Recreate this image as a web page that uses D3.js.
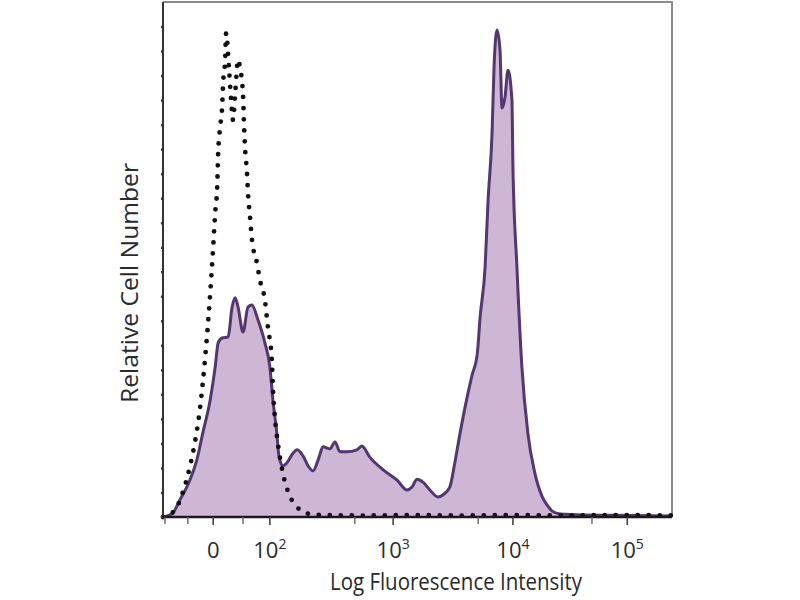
<!DOCTYPE html>
<html>
<head>
<meta charset="utf-8">
<script src="https://cdn.jsdelivr.net/npm/d3@7"></script>
<style>
  html, body { margin: 0; padding: 0; background: #fff; }
  svg { display: block; }
  text { font-family: "Open Sans", "DejaVu Sans", sans-serif; fill: #2a2a2a; }
</style>
</head>
<body>
<svg id="chart" width="800" height="600"></svg>
<script>
// Histogram over 1024 display channels (log/biexponential display)
const solidCh = [0,18,34,54,68,80,95,105,111,119,131,139,145,151,161,171,179,191,205,215,221,229,233,241,249,260,270,282,292,302,312,322,336,346,356,370,390,400,416,443,471,491,501,511,523,537,553,563,577,587,598,612,622,632,638,648,654,662,666,672,678,682,688,694,702,704,712,722,734,748,763,773,783,799,850,950,1024];
const solidVal = [0,0.6,3.5,7.5,11.6,17.1,23.9,30.6,35.5,36.5,36.7,42.8,44.7,42.8,37.7,42.8,43.2,40.2,35.5,30.6,23.9,17.1,12.6,10.4,11.0,12.8,13.7,12.4,10.4,9.4,11.6,14.3,13.9,15.3,13.3,13.3,13.7,14.5,12.2,9.6,7.5,5.5,6.1,7.7,7.1,5.5,4.1,4.5,6.1,11.0,17.3,24.5,29.0,33.0,40.8,51.0,64.6,78.3,91.8,99.3,95.2,83.4,85.6,91.1,85.0,71.4,51.0,30.6,17.1,9.0,4.1,2.4,1.2,0.6,0.4,0.3,0.2];

const isoCh = [0,24,40,54,64,74,80,89,95,101,105,109,111,115,119,121,125,127,133,137,141,145,151,155,161,163,165,169,171,175,179,189,195,205,211,219,221,225,231,241,256,270,286,316,400,500,600,700,800,900,1024];
const isoVal = [0,1.4,5.1,10.2,15.1,21.8,27.3,37.5,45.7,55.1,62.0,67.3,74.2,79.5,83.6,88.5,93.2,98.7,91.1,85.0,80.9,86.0,93.2,91.6,86.0,79.9,75.4,70.1,66.1,61.2,56.5,51.8,48.3,44.2,38.7,32.0,26.5,20.4,15.1,9.0,4.1,2.0,0.8,0.4,0.3,0.4,0.3,0.4,0.3,0.4,0.3];

// axis ticks (channel positions) and labels
const majorTickCh = [101, 215, 463, 704, 934];
const majorTickBase = ["0", "10", "10", "10", "10"];
const majorTickExp = ["", "2", "3", "4", "5"];
const minorTickCh = [4, 50, 161, 386, 634, 863];
const yTicks = d3.range(0, 101, 5);

const xTitle = "Log Fluorescence Intensity";
const yTitle = "Relative Cell Number";

const svg = d3.select("#chart");
const L = 163, R = 672, T = 2, B = 517;
const x = d3.scaleLinear().domain([0, 1024]).range([L, R]);
const y = d3.scaleLinear().domain([0, 105]).range([B, T]);

const solid = solidCh.map((c, i) => ({c, v: solidVal[i]}));
const iso = isoCh.map((c, i) => ({c, v: isoVal[i]}));

const area = d3.area().x(d => x(d.c)).y0(y(0)).y1(d => y(d.v)).curve(d3.curveMonotoneX);
const line = d3.line().x(d => x(d.c)).y(d => y(d.v)).curve(d3.curveMonotoneX);

// frame (top / right)
svg.append("path")
  .attr("d", `M${L},${T}H${R}V${B}`)
  .attr("fill", "none").attr("stroke", "#8a8a8a").attr("stroke-width", 2);

svg.append("path").datum(solid)
  .attr("d", area)
  .attr("fill", "#cdb7d4");

svg.append("path").datum(solid)
  .attr("d", line)
  .attr("fill", "none").attr("stroke", "#523770").attr("stroke-width", 3)
  .attr("stroke-linejoin", "round");

svg.append("path").datum(iso)
  .attr("d", line)
  .attr("fill", "none").attr("stroke", "#111").attr("stroke-width", 4.8)
  .attr("stroke-linecap", "round")
  .attr("stroke-dasharray", "0 11");

// y axis
const yAxis = d3.axisLeft(y).tickValues(yTicks).tickSize(3).tickFormat("");
const gy = svg.append("g").attr("transform", `translate(${L + 1},0)`).call(yAxis);
gy.select(".domain").remove();
gy.selectAll(".tick line").attr("stroke", "#333").attr("stroke-width", 2.5);
svg.append("line").attr("x1", L).attr("x2", L).attr("y1", T).attr("y2", B)
  .attr("stroke", "#333").attr("stroke-width", 2);

// x axis
const gx = svg.append("g").attr("transform", `translate(0,${B})`);
gx.append("line").attr("x1", L).attr("x2", R).attr("y1", 0).attr("y2", 0)
  .attr("stroke", "#1a1a1a").attr("stroke-width", 2.4);
gx.selectAll("line.major").data(majorTickCh).enter().append("line")
  .attr("class", "major")
  .attr("x1", d => x(d)).attr("x2", d => x(d)).attr("y1", 0).attr("y2", 8)
  .attr("stroke", "#444").attr("stroke-width", 1.6);
gx.selectAll("line.minor").data(minorTickCh).enter().append("line")
  .attr("class", "minor")
  .attr("x1", d => x(d)).attr("x2", d => x(d)).attr("y1", 0).attr("y2", 7)
  .attr("stroke", "#666").attr("stroke-width", 1.4);

const lab = gx.selectAll("text.tl").data(majorTickCh).enter().append("text")
  .attr("class", "tl")
  .attr("x", d => x(d)).attr("y", 41)
  .attr("text-anchor", "middle")
  .style("font-size", "22px");
lab.append("tspan").text((d, i) => majorTickBase[i]);
lab.append("tspan").attr("dy", -9).style("font-size", "14px").text((d, i) => majorTickExp[i]);

svg.append("text")
  .attr("x", 456).attr("y", 590)
  .attr("text-anchor", "middle")
  .attr("textLength", 252).attr("lengthAdjust", "spacingAndGlyphs")
  .style("font-size", "23px")
  .text(xTitle);

svg.append("text")
  .attr("transform", "translate(138,283) rotate(-90)")
  .attr("text-anchor", "middle")
  .attr("textLength", 240).attr("lengthAdjust", "spacingAndGlyphs")
  .style("font-size", "23px")
  .text(yTitle);
</script>
</body>
</html>
